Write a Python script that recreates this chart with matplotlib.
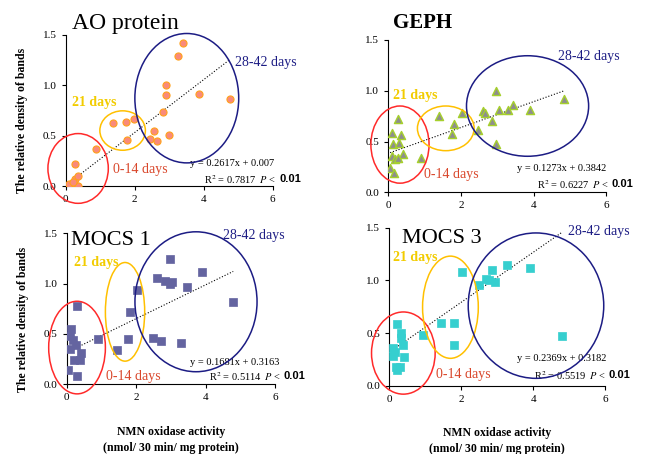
import matplotlib
matplotlib.use("Agg")
import matplotlib.pyplot as plt
from matplotlib.patches import Ellipse
from matplotlib.ticker import FormatStrFormatter

plt.rcParams['font.family'] = 'serif'
plt.rcParams['font.serif'] = ['Liberation Serif', 'DejaVu Serif']
plt.rcParams['mathtext.fontset'] = 'stix'

# ---- data ----
ao_x = [0.03, 0.17, 0.32, 0.37, 0.10, 0.27, 0.36, 0.22, 0.27, 0.89, 1.38, 1.76, 1.98, 1.78,
        2.45, 2.56, 2.66, 2.83, 2.98, 2.91, 2.91, 3.25, 3.39, 3.86, 4.75]
ao_y = [0.0, 0.0, 0.0, 0.0, 0.02, 0.07, 0.10, 0.04, 0.22, 0.37, 0.62, 0.63, 0.66, 0.46,
        0.47, 0.545, 0.445, 0.73, 0.505, 1.0, 0.90, 1.29, 1.42, 0.91, 0.86]

geph_x = [0.27, 0.09, 0.34, 0.13, 0.29, 0.09, 0.39, 0.18, 0.27, 0.05, 0.16, 0.89, 1.39,
          2.02, 1.81, 1.76, 2.47, 2.61, 2.67, 2.86, 2.95, 3.04, 2.95, 3.28, 3.42, 3.91, 4.83]
geph_y = [0.72, 0.58, 0.565, 0.48, 0.49, 0.36, 0.38, 0.325, 0.34, 0.24, 0.19, 0.335, 0.75,
          0.78, 0.67, 0.57, 0.61, 0.80, 0.78, 0.70, 1.0, 0.81, 0.48, 0.81, 0.86, 0.81, 0.92]

mocs1_x = [0.30, 0.14, 0.09, 0.17, 0.28, 0.09, 0.41, 0.21, 0.38, 0.05, 0.30, 0.89, 1.44,
           1.77, 1.82, 2.01, 2.47, 2.70, 2.61, 2.84, 2.97, 3.03, 2.97, 3.45, 3.28, 3.90, 4.79]
mocs1_y = [0.78, 0.55, 0.48, 0.44, 0.39, 0.35, 0.31, 0.24, 0.24, 0.14, 0.085, 0.45, 0.34,
           0.45, 0.72, 0.94, 0.46, 0.43, 1.06, 1.03, 1.00, 1.02, 1.24, 0.97, 0.41, 1.12, 0.82]

mocs3_x = [0.22, 0.33, 0.33, 0.39, 0.11, 0.15, 0.11, 0.40, 0.19, 0.30, 0.22, 0.93, 1.44,
           1.80, 1.81, 2.03, 2.49, 2.68, 2.86, 2.95, 2.78, 3.28, 3.90, 4.81]
mocs3_y = [0.59, 0.50, 0.45, 0.39, 0.36, 0.32, 0.28, 0.27, 0.18, 0.18, 0.15, 0.48, 0.60,
           0.60, 0.39, 1.08, 0.96, 1.01, 1.10, 0.98, 1.0, 1.15, 1.12, 0.47]

slopes = [0.2617, 0.1273, 0.1681, 0.2369]
intercepts = [0.007, 0.3842, 0.3163, 0.3182]
eq_texts = ["y = 0.2617x + 0.007", "y = 0.1273x + 0.3842",
            "y = 0.1681x + 0.3163", "y = 0.2369x + 0.3182"]
r2_texts = ["0.7817", "0.6227", "0.5114", "0.5519"]
titles = ["AO protein", "GEPH", "MOCS 1", "MOCS 3"]
group_labels = ["0-14 days", "21 days", "28-42 days"]

# ellipses: (cx, cy, width, height) for 0-14, 21, 28-42 days
ellipses = [
    [(0.36, 0.175, 1.75, 0.69), (1.65, 0.55, 1.32, 0.39), (3.51, 0.87, 3.01, 1.28)],
    [(0.32, 0.47, 1.60, 0.76), (1.58, 0.63, 1.56, 0.44), (3.83, 0.85, 3.36, 0.99)],
    [(0.30, 0.365, 1.63, 0.92), (1.68, 0.72, 1.13, 0.98), (3.72, 0.82, 3.51, 1.39)],
    [(0.39, 0.31, 1.77, 0.78), (1.70, 0.745, 1.55, 0.97), (4.08, 0.76, 3.77, 1.38)],
]
# label positions (x, y) for 0-14, 21, 28-42 days
label_pos = [
    [(1.37, 0.165), (0.17, 0.83), (4.9, 1.22)],
    [(0.99, 0.18), (0.14, 0.95), (4.67, 1.34)],
    [(1.13, 0.08), (0.21, 1.21), (4.5, 1.48)],
    [(1.30, 0.11), (0.11, 1.22), (4.97, 1.46)],
]
eq_pos = [(3.59, 0.225), (3.53, 0.23), (3.56, 0.22), (3.54, 0.26)]
r2_pos = [(4.02, 0.07), (4.08, 0.08), (4.09, 0.08), (4.02, 0.10)]

ring_colors = ['#FF2A2A', '#FFC000', '#1C1C84']
text_colors = ['#D9472B', '#F2CC00', '#1C1C84']

fig = plt.figure(figsize=(6.53, 4.54), dpi=100)
rects = [
    [0.1006, 0.590, 0.317, 0.334],
    [0.5947, 0.5764, 0.334, 0.3355],
    [0.102, 0.1535, 0.3196, 0.3326],
    [0.5962, 0.1504, 0.3303, 0.3481],
]
axes = [fig.add_axes(r) for r in rects]

series = [(ao_x, ao_y), (geph_x, geph_y), (mocs1_x, mocs1_y), (mocs3_x, mocs3_y)]
marker_styles = [
    dict(marker='o', s=26, c='#F98A7A', edgecolors='#FFA21A', linewidths=0.8),
    dict(marker='^', s=34, c='#8E8E8E', edgecolors='#A6D02C', linewidths=1.0),
    dict(marker='s', s=40, c='#6464A0', edgecolors='#6464A0', linewidths=0.5),
    dict(marker='s', s=40, c='#36CFCF', edgecolors='#36CFCF', linewidths=0.5),
]

for i, ax in enumerate(axes):
    xs, ys = series[i]
    ax.scatter(xs, ys, zorder=3, **marker_styles[i])

    # trend line from printed equation
    x0, x1 = min(xs), max(xs)
    ax.plot([x0, x1], [slopes[i] * x0 + intercepts[i], slopes[i] * x1 + intercepts[i]],
            ls=':', color='black', lw=0.8, zorder=2)

    for k, (cx, cy, w, h) in enumerate(ellipses[i]):
        ax.add_patch(Ellipse((cx, cy), w, h, fill=False, edgecolor=ring_colors[k],
                             lw=1.1, clip_on=False, zorder=4))
        lx, ly = label_pos[i][k]
        ax.text(lx, ly, group_labels[k], color=text_colors[k], fontsize=10,
                fontweight='bold' if k == 1 else 'normal', va='center', clip_on=False)

    ax.text(eq_pos[i][0], eq_pos[i][1], eq_texts[i], fontsize=7.5, va='center')
    t1 = ax.text(r2_pos[i][0], r2_pos[i][1], "R$^2$ = " + r2_texts[i] + "  $P$ <",
                 fontsize=7.5, va='center')
    ax.annotate("0.01", xy=(1, 0.5), xycoords=t1, xytext=(2, 0), textcoords='offset points',
                va='center', fontsize=8, fontweight='bold', family='Liberation Sans')

    ax.set_xlim(0, 6)
    ax.set_ylim(0, 1.5)
    ax.set_xticks([0, 2, 4, 6])
    ax.set_yticks([0, 0.5, 1.0, 1.5])
    ax.yaxis.set_major_formatter(FormatStrFormatter('%.1f'))
    ax.tick_params(labelsize=8, length=3, width=0.8)
    ax.spines['top'].set_visible(False)
    ax.spines['right'].set_visible(False)
    for sp in ('left', 'bottom'):
        ax.spines[sp].set_linewidth(0.8)
    ax.patch.set_visible(False)

axes[0].text(0.03, 1.075, titles[0], transform=axes[0].transAxes, fontsize=17, va='center')
axes[1].text(0.02, 1.11, titles[1], transform=axes[1].transAxes, fontsize=15,
             fontweight='bold', va='center')
axes[2].text(0.14, 1.43, titles[2], fontsize=16, va='center')
axes[3].text(0.34, 1.40, titles[3], fontsize=16, va='center')

for ax in (axes[0], axes[2]):
    ax.set_ylabel("The relative density of bands", fontsize=8.5, fontweight='bold')
    ax.yaxis.set_label_coords(-0.18, 0.43)

for ax in (axes[2], axes[3]):
    ax.set_xlabel("NMN oxidase activity\n(nmol/ 30 min/ mg protein)", fontsize=8.5,
                  fontweight='bold', labelpad=17, linespacing=1.45)

fig.savefig("out.png", dpi=100)
